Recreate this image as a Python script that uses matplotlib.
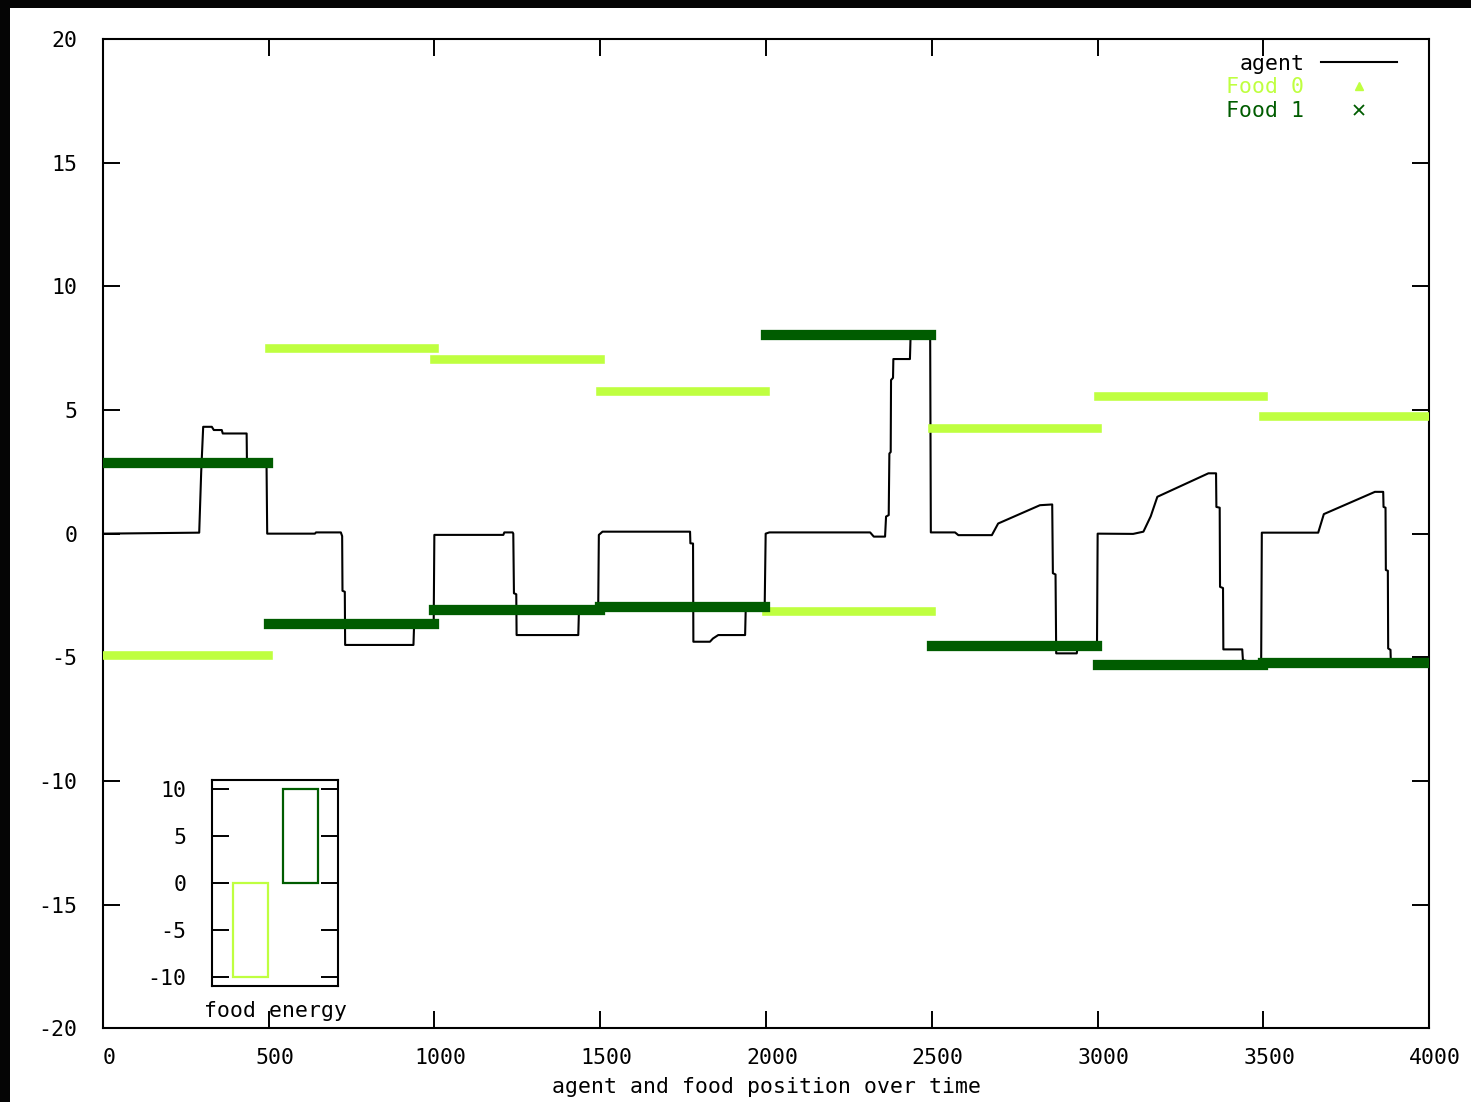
import matplotlib
matplotlib.use("Agg")
import matplotlib.pyplot as plt
from matplotlib.lines import Line2D
from matplotlib.patches import Rectangle
import matplotlib.transforms as mtransforms

# ---------------- data ----------------
seg_start = [0, 500, 1000, 1500, 2000, 2500, 3000, 3500]
seg_end = [500, 1000, 1500, 2000, 2500, 3000, 3500, 4000]
food0_pos = [-4.91, 7.50, 7.06, 5.76, -3.13, 4.27, 5.56, 4.75]
food1_pos = [2.85, -3.66, -3.09, -2.97, 8.03, -4.55, -5.32, -5.24]

agent_t = [0, 291, 297, 303, 329, 335, 359, 362, 434, 435, 494, 496, 640, 643,
           718, 722, 723, 730, 731, 937, 939, 998, 1000, 1208, 1211, 1236, 1238,
           1240, 1247, 1248, 1434, 1436, 1494, 1496, 1507, 1771, 1772, 1780, 1781,
           1831, 1840, 1856, 1937, 1939, 1996, 1999, 2010, 2314, 2325, 2359, 2362,
           2370, 2372, 2376, 2377, 2383, 2384, 2434, 2436, 2495, 2497, 2570, 2580,
           2681, 2700, 2826, 2863, 2865, 2873, 2875, 2937, 2940, 2998, 3000, 3107,
           3138, 3160, 3180, 3334, 3357, 3358, 3368, 3369, 3378, 3379, 3436, 3438,
           3493, 3495, 3665, 3682, 3836, 3861, 3862, 3868, 3869, 3875, 3876, 3883,
           3884, 4000]
agent_y = [0.0, 0.04, 2.5, 4.32, 4.32, 4.19, 4.19, 4.05, 4.05, 2.8, 2.8, 0.0, 0.0, 0.05,
           0.05, -0.1, -2.31, -2.35, -4.5, -4.5, -3.66, -3.66, -0.05, -0.05, 0.05, 0.05, 0.0,
           -2.41, -2.45, -4.1, -4.1, -3.09, -3.09, -0.05, 0.08, 0.08, -0.39, -0.4, -4.37,
           -4.37, -4.24, -4.1, -4.1, -2.97, -2.97, 0.0, 0.05, 0.05, -0.12, -0.12, 0.69,
           0.75, 3.24, 3.3, 6.21, 6.3, 7.06, 7.06, 8.0, 8.0, 0.05, 0.05, -0.06,
           -0.06, 0.41, 1.15, 1.18, -1.6, -1.65, -4.84, -4.84, -4.55, -4.55, 0.0, -0.01,
           0.08, 0.7, 1.49, 2.44, 2.44, 1.08, 1.05, -2.15, -2.2, -4.68, -4.68, -5.11,
           -5.3, 0.04, 0.04, 0.79, 1.69, 1.69, 1.08, 1.05, -1.47, -1.5, -4.64, -4.7,
           -5.2, -5.2]

energy_labels = ["Food 0", "Food 1"]
energy_values = [-10, 10]

x_ticks = [0, 500, 1000, 1500, 2000, 2500, 3000, 3500, 4000]
y_ticks = [-20, -15, -10, -5, 0, 5, 10, 15, 20]
inset_ticks = [-10, -5, 0, 5, 10]

# ---------------- style ----------------
LIGHT = "#bfff40"
DARK = "#005c00"
FONT = "DejaVu Sans Mono"
FS = 15.5
plt.rcParams["font.family"] = [FONT, "DejaVu Sans"]

W, H = 1471, 1102
fig = plt.figure(figsize=(W / 100, H / 100), dpi=100, facecolor="white")

# black screen frame (top and left)
fig.patches.append(Rectangle((0, 1 - 8 / H), 1, 8 / H, transform=fig.transFigure,
                             facecolor="#050505", edgecolor="none", zorder=-5))
fig.patches.append(Rectangle((0, 0), 10 / W, 1, transform=fig.transFigure,
                             facecolor="#050505", edgecolor="none", zorder=-5))

ax_l, ax_r = 102.7 / W, 1429.3 / W
ax_b, ax_t = (H - 1028.3) / H, (H - 39) / H
ax = fig.add_axes([ax_l, ax_b, ax_r - ax_l, ax_t - ax_b])

# agent (drawn beneath the food bands)
ax.plot(agent_t, agent_y, color="black", lw=1.5, zorder=2)

# food bands
for s, e, f0 in zip(seg_start, seg_end, food0_pos):
    ax.plot([s, e - 2], [f0, f0], color=LIGHT, lw=6.2, solid_capstyle="projecting", zorder=3)
for s, e, f1 in zip(seg_start, seg_end, food1_pos):
    ax.plot([s, e - 2], [f1, f1], color=DARK, lw=7.4, solid_capstyle="projecting", zorder=4)

ax.set_xlim(0, 4000)
ax.set_ylim(-20, 20)
ax.set_xticks(x_ticks)
ax.set_yticks(y_ticks)
ax.set_xticklabels([str(v) for v in x_ticks])
ax.set_yticklabels([str(v) for v in y_ticks])
ax.tick_params(direction="in", length=12, width=1.4, top=True, right=True,
               labelsize=FS, pad=14)
ax.tick_params(axis="y", pad=18)
for lab in ax.get_xticklabels():
    lab.set_transform(lab.get_transform() + mtransforms.ScaledTranslation(6 / 100, 0, fig.dpi_scale_trans))
for sp in ax.spines.values():
    sp.set_linewidth(1.5)
ax.set_xlabel("agent and food position over time", fontsize=FS, labelpad=7)

# legend
handles = [Line2D([], [], color="black", lw=1.5),
           Line2D([], [], color=LIGHT, marker="^", ls="none", markersize=6),
           Line2D([], [], color=DARK, marker="x", ls="none", markersize=7, mew=1.3)]
leg = ax.legend(handles, ["agent", "Food 0", "Food 1"], loc="upper right",
                bbox_to_anchor=(0.982, 0.994), frameon=False, markerfirst=False,
                fontsize=FS, handlelength=3.5, handletextpad=0.8, labelspacing=0.18,
                borderaxespad=0.0)
for txt, c in zip(leg.get_texts(), ["black", LIGHT, DARK]):
    txt.set_color(c)

# inset: food energy
in_l, in_r = 211.7 / W, 338.3 / W
in_b, in_t = (H - 986) / H, (H - 780) / H
ins = fig.add_axes([in_l, in_b, in_r - in_l, in_t - in_b])
ins.bar([0, 1], energy_values, width=0.7, fill=False,
        edgecolor=[LIGHT, DARK], linewidth=1.6)
ins.set_xlim(-0.766, 1.754)
ins.set_ylim(-11, 11)
ins.set_yticks(inset_ticks)
ins.set_yticklabels([str(v) for v in inset_ticks])
ins.set_xticks([])
ins.tick_params(direction="in", length=12, width=1.4, right=True, labelsize=FS, pad=18)
for sp in ins.spines.values():
    sp.set_linewidth(1.5)
ins.set_xlabel("food energy", fontsize=FS, labelpad=11)

fig.savefig("out.png", dpi=100, facecolor="white")
